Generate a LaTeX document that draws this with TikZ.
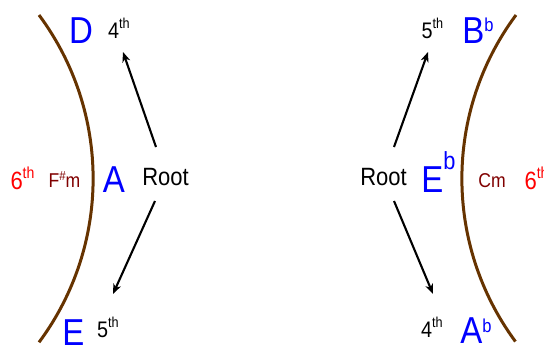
\documentclass[tikz,border=0pt]{standalone}
\usepackage{fontspec}
\setmainfont[FakeStretch=0.88]{Liberation Sans}
\usetikzlibrary{arrows.meta}
\definecolor{arcbrown}{RGB}{102,51,0}
\definecolor{chordred}{RGB}{128,0,0}
% ordinal and flat superscripts
\newcommand{\ordsup}[1]{#1\raisebox{0.42em}{\scalebox{0.64}{th}}}
\newcommand{\flatsup}[3]{#1\raisebox{#2}{\scalebox{#3}{b}}}
\tikzset{
  lbl/.style={anchor=base, inner sep=0pt},
  degree/.style={lbl, font=\fontsize{22.5}{22.5}\selectfont},
  pitch/.style={lbl, text=blue, font=\fontsize{37.5}{37.5}\selectfont},
  sixth/.style={lbl, text=red, font=\fontsize{25}{25}\selectfont},
  chord/.style={lbl, text=chordred, font=\fontsize{20}{20}\selectfont},
  rootlbl/.style={lbl, font=\fontsize{25}{25}\selectfont},
  arc/.style={arcbrown, line width=3pt},
  move/.style={line width=2.1pt, -{Stealth[length=10pt, width=8pt, inset=3pt]}}
}
\begin{document}
\begin{tikzpicture}[x=1pt, y=-1pt]
  \useasboundingbox (0,0) rectangle (544,348);
  % arcs
  \draw[arc] (39,15) arc[start angle=-36.6, end angle=36.6, radius=274.5];
  \draw[arc] (516,15) arc[start angle=216.6, end angle=143.6, radius=274.5];
  % left side
  \node[pitch]   (D)     at (81,43)    {D};
  \node[degree]  (fourL) at (119,38)   {\ordsup{4}};
  \node[sixth]   (sixL)  at (22.5,189) {\ordsup{6}};
  \node[chord]   (Fsm)   at (64.5,187) {F\raisebox{0.35em}{\scalebox{0.65}{\#}}m};
  \node[pitch]   (A)     at (114,192)  {A};
  \node[rootlbl] (rootL) at (165.5,185) {Root};
  \node[pitch]   (E)     at (73.5,345) {E};
  \node[degree]  (fiveL) at (108,337)  {\ordsup{5}};
  % right side
  \node[degree]  (fiveR) at (432.5,38) {\ordsup{5}};
  \node[pitch]   (Bb)    at (478,43)   {\flatsup{B}{0.32em}{0.5}};
  \node[rootlbl] (rootR) at (383.5,185) {Root};
  \node[pitch]   (Eb)    at (438.5,192) {\flatsup{E}{0.6em}{0.66}};
  \node[chord]   (Cm)    at (492,187)  {Cm};
  \node[sixth]   (sixR)  at (536.5,189) {\ordsup{6}};
  \node[degree]  (fourR) at (432,337)  {\ordsup{4}};
  \node[pitch]   (Ab)    at (476,343)  {\flatsup{A}{0.27em}{0.5}};
  % arrow ends
  \coordinate (upL)  at (156,147);
  \coordinate (tipUL) at (123,52);
  \coordinate (dnL)  at (155,201);
  \coordinate (tipDL) at (113,294);
  \coordinate (upR)  at (394,147);
  \coordinate (tipUR) at (428,52);
  \coordinate (dnR)  at (394,201);
  \coordinate (tipDR) at (433,294);
  % arrows
  \draw[move] (upL) -- (tipUL);
  \draw[move] (dnL) -- (tipDL);
  \draw[move] (upR) -- (tipUR);
  \draw[move] (dnR) -- (tipDR);
\end{tikzpicture}
\end{document}
